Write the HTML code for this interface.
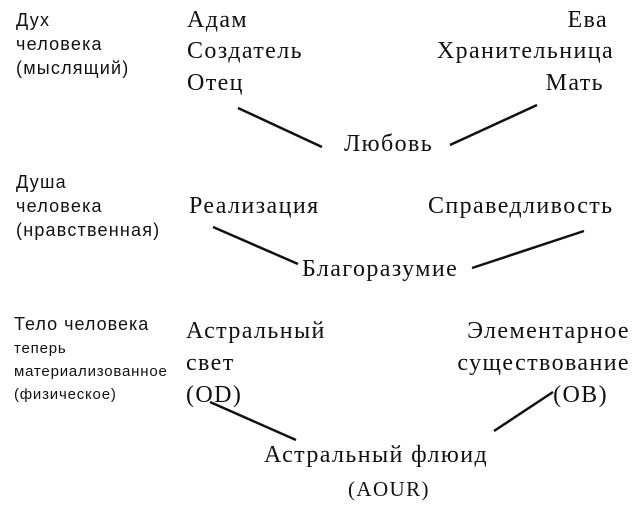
<!DOCTYPE html>
<html><head><meta charset="utf-8"><style>
body{margin:0;width:642px;height:505px;background:#fff;position:relative;overflow:hidden;color:#111}
.s{position:absolute;font-family:"Liberation Serif",serif;font-size:24px;line-height:23px;letter-spacing:1.4px;white-space:nowrap}
.a{position:absolute;font-family:"Liberation Sans",sans-serif;font-size:18px;line-height:24px;letter-spacing:1.2px;white-space:nowrap}
.sm{font-size:15px;letter-spacing:0.8px}
.r{text-align:right}
</style></head><body>
<div class="a" style="left:16px;top:8px">Дух<br>человека<br>(мыслящий)</div>
<div class="a" style="left:16px;top:170px">Душа<br>человека<br>(нравственная)</div>
<div class="a" style="left:14px;top:312px;letter-spacing:1px">Тело человека</div>
<div class="a sm" style="left:14px;top:337px;line-height:23px">теперь<br>материализованное<br>(физическое)</div>

<div class="s" style="left:187px;top:9px">Адам</div>
<div class="s" style="left:187px;top:40px">Создатель</div>
<div class="s" style="left:187px;top:72px">Отец</div>
<div class="s r" style="right:34px;top:9px">Ева</div>
<div class="s r" style="right:28px;top:40px">Хранительница</div>
<div class="s r" style="right:38px;top:72px">Мать</div>
<div class="s" style="left:344px;top:133px">Любовь</div>

<div class="s" style="left:189px;top:195px">Реализация</div>
<div class="s" style="left:428px;top:195px">Справедливость</div>
<div class="s" style="left:302px;top:258px">Благоразумие</div>

<div class="s" style="left:186px;top:320px">Астральный</div>
<div class="s" style="left:186px;top:352px">свет</div>
<div class="s" style="left:186px;top:384px">(OD)</div>
<div class="s r" style="right:12px;top:320px">Элементарное</div>
<div class="s r" style="right:12px;top:352px">существование</div>
<div class="s r" style="right:34px;top:384px">(OB)</div>
<div class="s" style="left:264px;top:444px">Астральный флюид</div>
<div class="s" style="left:348px;top:478px;font-size:21px">(AOUR)</div>

<svg width="642" height="505" style="position:absolute;left:0;top:0" stroke="#111" stroke-width="2.5">
<line x1="238" y1="108" x2="322" y2="147"/>
<line x1="537" y1="105" x2="450" y2="145"/>
<line x1="213" y1="227" x2="298" y2="264"/>
<line x1="584" y1="231" x2="472" y2="268"/>
<line x1="210" y1="402" x2="296" y2="440"/>
<line x1="553" y1="392" x2="494" y2="431"/>
</svg>
</body></html>
